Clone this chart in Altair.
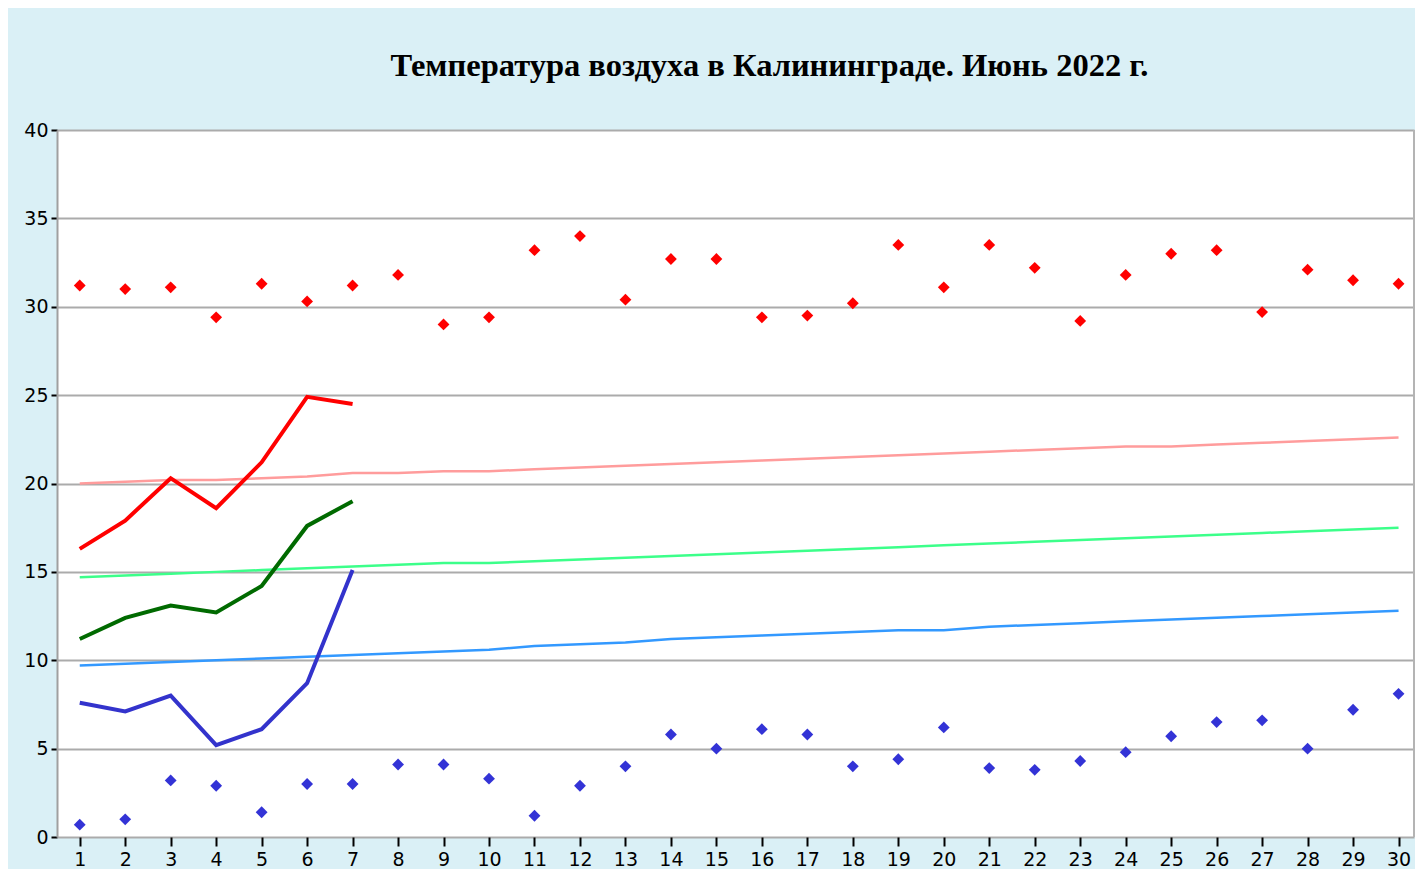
import altair as alt
import pandas as pd

days = list(range(1, 31))

record_max = [31.2, 31.0, 31.1, 29.4, 31.3, 30.3, 31.2, 31.8, 29.0, 29.4,
              33.2, 34.0, 30.4, 32.7, 32.7, 29.4, 29.5, 30.2, 33.5, 31.1,
              33.5, 32.2, 29.2, 31.8, 33.0, 33.2, 29.7, 32.1, 31.5, 31.3]
record_min = [0.7, 1.0, 3.2, 2.9, 1.4, 3.0, 3.0, 4.1, 4.1, 3.3,
              1.2, 2.9, 4.0, 5.8, 5.0, 6.1, 5.8, 4.0, 4.4, 6.2,
              3.9, 3.8, 4.3, 4.8, 5.7, 6.5, 6.6, 5.0, 7.2, 8.1]
norm_max = [20.0, 20.1, 20.2, 20.2, 20.3, 20.4, 20.6, 20.6, 20.7, 20.7,
            20.8, 20.9, 21.0, 21.1, 21.2, 21.3, 21.4, 21.5, 21.6, 21.7,
            21.8, 21.9, 22.0, 22.1, 22.1, 22.2, 22.3, 22.4, 22.5, 22.6]
norm_mean = [14.7, 14.8, 14.9, 15.0, 15.1, 15.2, 15.3, 15.4, 15.5, 15.5,
             15.6, 15.7, 15.8, 15.9, 16.0, 16.1, 16.2, 16.3, 16.4, 16.5,
             16.6, 16.7, 16.8, 16.9, 17.0, 17.1, 17.2, 17.3, 17.4, 17.5]
norm_min = [9.7, 9.8, 9.9, 10.0, 10.1, 10.2, 10.3, 10.4, 10.5, 10.6,
            10.8, 10.9, 11.0, 11.2, 11.3, 11.4, 11.5, 11.6, 11.7, 11.7,
            11.9, 12.0, 12.1, 12.2, 12.3, 12.4, 12.5, 12.6, 12.7, 12.8]

act_days = [1, 2, 3, 4, 5, 6, 7]
act_max = [16.3, 17.9, 20.3, 18.6, 21.2, 24.9, 24.5]
act_mean = [11.2, 12.4, 13.1, 12.7, 14.2, 17.6, 19.0]
act_min = [7.6, 7.1, 8.0, 5.2, 6.1, 8.7, 15.1]

y_ticks = [0, 5, 10, 15, 20, 25, 30, 35, 40]
title_text = "Температура воздуха в Калининграде. Июнь 2022 г."

W, H = 1357, 707
BG = "#DAF0F6"

norm_df = pd.DataFrame({
    "day": days * 3,
    "t": norm_max + norm_mean + norm_min,
    "s": ["nmax"] * 30 + ["nmean"] * 30 + ["nmin"] * 30,
})
act_df = pd.DataFrame({
    "day": act_days * 3,
    "t": act_max + act_mean + act_min,
    "s": ["amax"] * 7 + ["amean"] * 7 + ["amin"] * 7,
})
rec_df = pd.DataFrame({
    "day": days * 2,
    "t": record_max + record_min,
    "s": ["rmax"] * 30 + ["rmin"] * 30,
})

x_enc = alt.X("day:Q",
              scale=alt.Scale(domain=[0.5, 30.34], nice=False, zero=False),
              axis=alt.Axis(values=days, format="d", title=None, grid=False,
                            domain=False, tickColor="#000000", tickSize=9,
                            tickWidth=2, labelFontSize=19, labelPadding=4,
                            labelColor="#000000", labelFont="DejaVu Sans"))
y_enc = alt.Y("t:Q",
              scale=alt.Scale(domain=[0, 40], nice=False, zero=True),
              axis=alt.Axis(values=y_ticks, title=None, grid=True,
                            gridColor="#ABABAB", gridWidth=2,
                            domain=True, domainColor="#A0A0A0", domainWidth=2,
                            tickColor="#000000", tickSize=6, tickWidth=2,
                            labelFontSize=19, labelPadding=3,
                            labelColor="#000000", labelFont="DejaVu Sans"))

color_scale = alt.Scale(
    domain=["nmax", "nmean", "nmin", "amax", "amean", "amin", "rmax", "rmin"],
    range=["#FF9C9C", "#3CFF8A", "#3399FF", "#FF0000", "#006A00", "#3333CC",
           "#FF0000", "#3333D6"])

norm_lines = alt.Chart(norm_df).mark_line(strokeWidth=2.5, interpolate="linear").encode(
    x=x_enc, y=y_enc,
    color=alt.Color("s:N", scale=color_scale, legend=None),
    detail="s:N",
)
act_lines = alt.Chart(act_df).mark_line(strokeWidth=4).encode(
    x="day:Q", y="t:Q",
    color=alt.Color("s:N", scale=color_scale, legend=None),
    detail="s:N",
)
rec_pts = alt.Chart(rec_df).mark_point(shape="diamond", filled=True, size=140, opacity=1).encode(
    x="day:Q", y="t:Q",
    color=alt.Color("s:N", scale=color_scale, legend=None),
)
right_border = alt.Chart(pd.DataFrame({"d": [0]})).mark_rule(color="#B4B4B4", strokeWidth=2).encode(
    x=alt.value(W), y=alt.value(0), y2=alt.value(H)
)

chart = alt.layer(norm_lines, act_lines, rec_pts, right_border).properties(
    width=W, height=H,
    title=alt.Title(title_text, font="Liberation Serif", fontSize=32.5,
                    fontWeight="bold", color="#000000", anchor="middle",
                    dx=34, offset=39),
    autosize=alt.AutoSizeParams(type="none"),
    padding={"left": 49, "top": 122, "right": 1, "bottom": 32},
    background=BG,
).configure_view(fill="#FFFFFF", stroke=None)

chart.save("out.html", embed_options={"renderer": "svg", "actions": False})
